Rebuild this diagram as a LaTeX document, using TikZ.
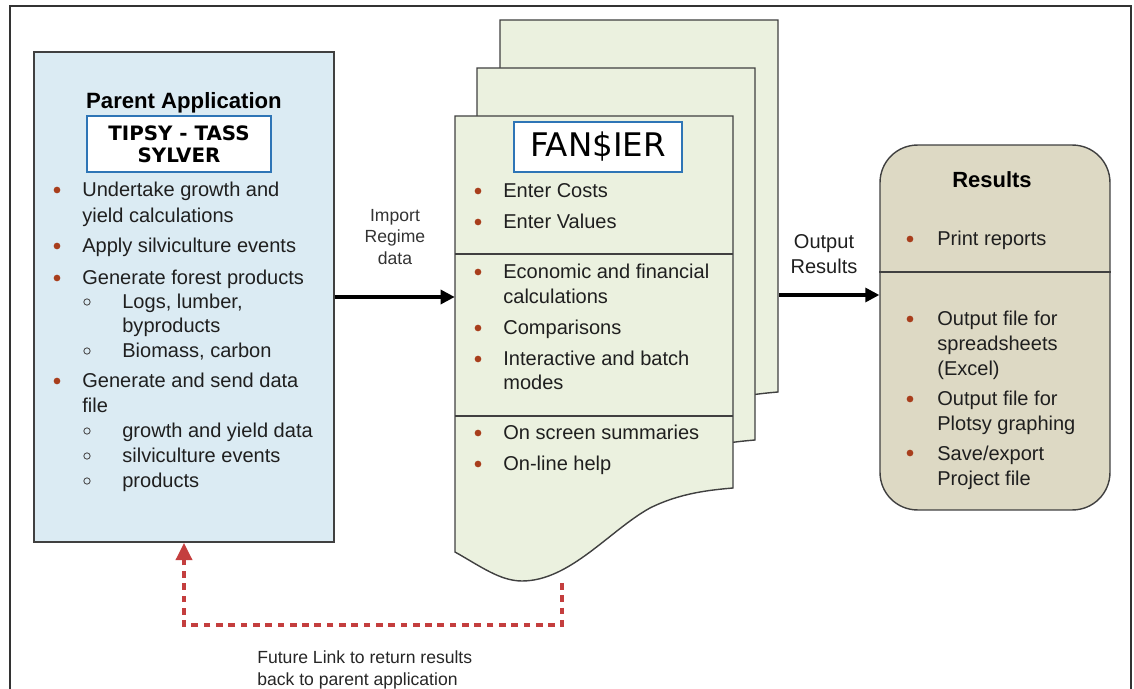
\documentclass[tikz,border=0pt]{standalone}
\usepackage{fontspec}
\setmainfont{Liberation Sans}
\newfontfamily\verdana{DejaVu Sans}
\usetikzlibrary{arrows.meta}

\definecolor{parentblue}{RGB}{219,235,243}
\definecolor{pagegreen}{RGB}{235,241,223}
\definecolor{resulttan}{RGB}{221,217,196}
\definecolor{bulletred}{RGB}{168,62,28}
\definecolor{framegray}{RGB}{64,64,64}
\definecolor{tipsyblue}{RGB}{46,117,182}
\definecolor{linkred}{RGB}{196,62,62}

\tikzset{
  body/.style={font=\fontsize{11.4}{14.2}\selectfont, text=black!88},
  txt/.style={body, anchor=west, inner sep=0pt, text height=8.2pt, text depth=2.3pt},
  reddot/.style={circle, fill=bulletred, inner sep=0pt, minimum size=3.8pt},
  subring/.style={circle, draw=black!70, line width=0.5pt, inner sep=0pt, minimum size=3.6pt},
  panel/.style={draw=framegray, line width=0.8pt},
  namebox/.style={draw=tipsyblue, line width=1.2pt, fill=white, inner sep=0pt},
  bigarrow/.style={line width=1.8pt, -{Triangle[length=8pt,width=8pt]}},
  futurelink/.style={draw=linkred, line width=2.8pt, dash pattern=on 3.8pt off 3.2pt, -{Triangle[length=10pt,width=9pt]}},
}

\begin{document}
\begin{tikzpicture}[x=0.02cm, y=-0.02cm]
\useasboundingbox (0,0) rectangle (1134,689);
% frame
\draw[line width=0.8pt, black!80] (10,689) -- (10,6) -- (1131,6) -- (1131,689);

% parent application
\node[panel, fill=parentblue, minimum width=6cm, minimum height=9.8cm] (parent) at (184,297) {};
\node[font=\bfseries\fontsize{12.6}{15}\selectfont] (ptitle) at (184,103) {Parent Application};
\node[namebox, minimum width=3.68cm, minimum height=1.12cm, align=center,
      font=\verdana\bfseries\fontsize{11.3}{12.5}\selectfont] (tipsy) at (179,144) {TIPSY - TASS\\SYLVER};
\foreach \y/\lbl [count=\i] in {191/Undertake growth and, 217/yield calculations,
    247/Apply silviculture events, 279/Generate forest products,
    382/Generate and send data, 407/file}
  \node[txt] (pa\i) at (82,\y) {\lbl};
\foreach \y/\lbl [count=\i] in {303/{Logs, lumber,}, 327/byproducts, 352/{Biomass, carbon},
    432/growth and yield data, 457/silviculture events, 482/products}
  \node[txt] (pb\i) at (122,\y) {\lbl};
\foreach \y [count=\i] in {190,246,278,381} \node[reddot] (pd\i) at (57,\y) {};
\foreach \y [count=\i] in {302,351,431,456,481} \node[subring] (pr\i) at (87,\y) {};

% fansier pages
\foreach \dx/\dy in {45/-96, 22/-48}
  \draw[panel, fill=pagegreen, shift={(\dx,\dy)}] (455,116) -- (733,116) -- (733,488)
    .. controls (710,490) and (680,493) .. (650,508)
    .. controls (610,530) and (570,581) .. (522,581)
    .. controls (500,581) and (480,566) .. (455,552) -- cycle;
\draw[panel, fill=pagegreen] (455,116) -- (733,116) -- (733,488)
    .. controls (710,490) and (680,493) .. (650,508)
    .. controls (610,530) and (570,581) .. (522,581)
    .. controls (500,581) and (480,566) .. (455,552) -- cycle;
\node[minimum width=5.56cm, minimum height=8.72cm, inner sep=0pt] (front) at (594,334) {};
\draw[panel] (455,254) -- (733,254);
\draw[panel] (455,416) -- (733,416);
\node[namebox, minimum width=3.36cm, minimum height=1cm,
      font=\verdana\fontsize{18.5}{20}\selectfont] (fansier) at (598,147) {FAN\$IER};
\foreach \y/\lbl [count=\i] in {192/Enter Costs, 223/Enter Values, 273/Economic and financial,
    298/calculations, 329/Comparisons, 360/Interactive and batch, 384/modes,
    434/On screen summaries, 465/On-line help}
  \node[txt] (fa\i) at (503,\y) {\lbl};
\foreach \y [count=\i] in {191,222,272,328,359,433,464} \node[reddot] (fd\i) at (478,\y) {};

% results
\node[panel, fill=resulttan, rounded corners=0.75cm, minimum width=4.6cm, minimum height=7.3cm] (results) at (995,327.5) {};
\draw[panel] (results.west |- 0,272) -- (results.east |- 0,272);
\node[font=\bfseries\fontsize{12.5}{15}\selectfont] (rtitle) at (992,180) {Results};
\foreach \y/\lbl [count=\i] in {240/Print reports, 320/Output file for, 345/spreadsheets,
    370/{(Excel)}, 400/Output file for, 425/Plotsy graphing, 455/{Save/export}, 480/Project file}
  \node[txt] (ra\i) at (937,\y) {\lbl};
\foreach \y [count=\i] in {239,319,399,453} \node[reddot] (rd\i) at (910,\y) {};

% connectors
\draw[bigarrow] (parent.east) -- (parent.east -| front.west);
\node[font=\fontsize{10}{12.3}\selectfont, text=black!80, align=center] (importlbl) at (395,237) {Import\\Regime\\data};
\coordinate (outstart) at (779,295);
\draw[bigarrow] (outstart) -- (outstart -| results.west);
\node[body, align=center] (outlbl) at (824,254) {Output\\Results};
\coordinate (linkstart) at (562,583);
\draw[futurelink] (linkstart) -- ++(0,42) -| (parent.south);
\node[font=\fontsize{10}{13}\selectfont, text=black!85, align=left, anchor=north west, inner sep=0pt] (linklbl) at (257,650)
  {Future Link to return results\\back to parent application};
\end{tikzpicture}
\end{document}
